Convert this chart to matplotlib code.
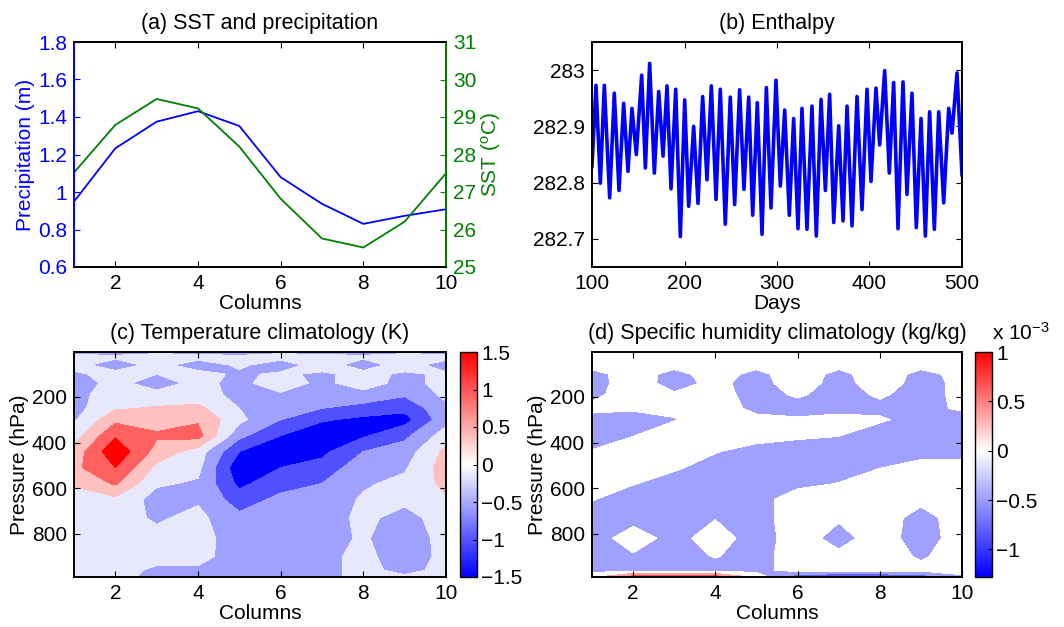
import numpy as np
import matplotlib
matplotlib.use('Agg')
import matplotlib.pyplot as plt
from matplotlib.colors import LinearSegmentedColormap, Normalize
from matplotlib.cm import ScalarMappable

# ---- (a) SST and precipitation ----
columns = [1, 2, 3, 4, 5, 6, 7, 8, 9, 10]
precip = [0.949, 1.233, 1.375, 1.431, 1.352, 1.079, 0.937, 0.830, 0.873, 0.908]
sst = [27.52, 28.79, 29.48, 29.23, 28.21, 26.82, 25.76, 25.52, 26.21, 27.50]

# ---- (b) Enthalpy (peaks / troughs) ----
days = [100.0, 104.3, 109.0, 113.3, 119.1, 124.1, 129.2, 134.2, 138.9, 143.2,
        147.9, 153.7, 157.7, 162.3, 167.4, 172.1, 176.8, 181.1, 185.4, 190.5,
        195.5, 200.2, 204.5, 209.9, 214.6, 219.6, 224.3, 229.0, 234.1, 238.7,
        244.1, 249.5, 254.2, 259.6, 264.3, 269.4, 273.7, 278.7, 283.8, 288.5,
        293.5, 298.9, 303.6, 308.3, 313.3, 318.0, 322.7, 327.0, 332.4, 337.8,
        342.5, 347.6, 352.3, 356.9, 361.3, 366.7, 371.4, 375.7, 381.1, 386.5,
        391.9, 397.3, 401.6, 407.0, 411.0, 416.4, 421.4, 426.1, 430.8, 436.2,
        440.5, 445.9, 450.6, 455.7, 460.4, 465.0, 470.1, 474.8, 480.2, 485.6,
        489.2, 494.6, 500.0]
enthalpy = [282.829, 282.973, 282.799, 282.973, 282.773, 282.959, 282.786, 282.941, 282.820, 282.932,
            282.850, 282.991, 282.826, 283.012, 282.817, 282.962, 282.847, 282.972, 282.789, 282.966,
            282.704, 282.947, 282.758, 282.900, 282.763, 282.953, 282.805, 282.972, 282.770, 282.966,
            282.726, 282.952, 282.761, 282.965, 282.788, 282.952, 282.742, 282.942, 282.708, 282.969,
            282.755, 282.982, 282.794, 282.929, 282.742, 282.914, 282.718, 282.932, 282.717, 282.936,
            282.705, 282.948, 282.786, 282.957, 282.729, 282.901, 282.732, 282.936, 282.723, 282.953,
            282.752, 282.966, 282.802, 282.968, 282.867, 282.999, 282.817, 282.978, 282.718, 282.979,
            282.779, 282.959, 282.720, 282.914, 282.705, 282.926, 282.717, 282.926, 282.764, 282.932,
            282.888, 282.995, 282.814]

# ---- (c), (d) climatologies on pressure levels ----
pressure = [3, 25, 60, 100, 140, 190, 250, 300, 370, 440, 510, 580, 650, 730, 820, 900, 960, 990]

temp_anom = [
    [-0.3, -0.3, -0.25, -0.3, -0.3, -0.25, -0.3, -0.3, -0.25, -0.3],
    [-0.1, -0.15, -0.1, -0.1, -0.15, -0.1, -0.1, -0.15, -0.1, -0.1],
    [-0.1, -0.35, -0.1, -0.35, -0.15, -0.35, -0.05, -0.35, -0.05, -0.35],
    [-0.25, -0.1, -0.2, -0.1, -0.25, -0.15, -0.25, -0.1, -0.25, -0.15],
    [-0.35, -0.1, -0.35, -0.1, -0.3, 0.0, -0.3, 0.0, -0.35, -0.05],
    [-0.3, -0.05, -0.1, -0.05, -0.3, -0.25, -0.4, -0.35, -0.55, -0.1],
    [-0.35, 0.15, 0.25, 0.3, -0.2, -0.45, -0.6, -0.75, -0.9, -0.3],
    [-0.25, 0.5, 0.45, 0.55, -0.1, -0.6, -0.95, -1.1, -1.15, -0.35],
    [0.0, 0.95, 0.65, 0.75, -0.5, -1.0, -1.3, -1.05, -0.7, 0.0],
    [0.35, 1.3, 0.45, 0.0, -1.0, -1.15, -1.1, -0.6, -0.4, 0.3],
    [0.5, 1.0, 0.1, -0.1, -1.3, -1.0, -0.85, -0.35, -0.25, 0.4],
    [0.25, 0.65, -0.15, -0.25, -1.1, -0.75, -0.6, -0.25, -0.1, 0.3],
    [0.0, 0.1, -0.35, -0.25, -0.8, -0.5, -0.45, -0.15, -0.1, 0.15],
    [-0.1, -0.05, -0.25, -0.1, -0.5, -0.4, -0.4, -0.1, -0.35, 0.0],
    [-0.1, -0.1, -0.1, -0.05, -0.4, -0.4, -0.35, -0.15, -0.45, -0.05],
    [-0.1, -0.1, -0.1, -0.1, -0.35, -0.35, -0.3, -0.1, -0.4, -0.1],
    [-0.1, -0.1, -0.25, -0.25, -0.3, -0.35, -0.3, -0.1, -0.3, -0.1],
    [-0.1, -0.1, -0.3, -0.3, -0.25, -0.3, -0.25, -0.15, -0.15, -0.1],
]

# specific humidity anomaly, units of 1e-3 kg/kg
q_anom = [
    [0, 0, 0, 0, 0, 0, 0, 0, 0, 0],
    [0, 0, 0, 0, 0, 0, 0, 0, 0, 0],
    [-0.1, -0.05, -0.1, -0.05, -0.1, 0.0, -0.1, -0.05, -0.1, -0.05],
    [-0.3, -0.05, -0.3, -0.05, -0.3, 0.0, -0.3, 0.0, -0.3, -0.1],
    [-0.35, 0.0, -0.35, -0.1, -0.35, 0.0, -0.35, 0.0, -0.35, -0.1],
    [-0.3, 0.0, -0.15, -0.05, -0.35, -0.15, -0.35, -0.15, -0.35, -0.1],
    [-0.1, -0.15, -0.12, 0.0, -0.3, -0.35, -0.3, -0.3, -0.3, -0.15],
    [-0.35, -0.35, -0.22, 0.0, -0.1, -0.15, -0.1, -0.15, -0.35, -0.35],
    [-0.35, -0.21, 0.0, 0.0, -0.05, -0.15, -0.19, -0.4, -0.4, -0.4],
    [-0.18, 0.0, 0.0, -0.18, -0.35, -0.35, -0.4, -0.35, -0.3, -0.3],
    [0.0, 0.0, -0.15, -0.35, -0.4, -0.4, -0.35, -0.21, -0.1, -0.1],
    [-0.1, -0.18, -0.35, -0.4, -0.4, -0.3, -0.19, 0.0, 0.0, 0.0],
    [-0.18, -0.4, -0.4, -0.35, -0.35, 0.0, -0.05, 0.0, -0.1, 0.0],
    [-0.4, -0.35, -0.4, -0.22, -0.35, 0.0, -0.15, 0.0, -0.35, 0.0],
    [-0.4, 0.0, -0.35, 0.0, -0.4, 0.0, -0.35, 0.0, -0.4, 0.0],
    [-0.4, -0.25, -0.35, -0.18, -0.35, 0.0, -0.1, 0.0, -0.25, 0.0],
    [-0.35, -0.35, -0.35, -0.35, -0.35, 0.0, 0.0, 0.0, -0.1, 0.0],
    [0.1, 0.8, 0.8, 0.8, 0.1, -1.0, -1.1, -1.1, -0.9, -0.3],
]

temp_levels = [-2, -1.0, -0.6, -0.2, 0.2, 0.6, 1.0, 2]
temp_colors = ['#0000ff', '#5050ff', '#a0a0ff', '#e8e8fc', '#ffc0c0', '#ff6060', '#ff0000']
q_levels = [-2, -1.0, -0.6, -0.2, 0.2, 0.6, 2]
q_colors = ['#2020ff', '#6060ff', '#a0a0ff', '#ffffff', '#ffa0a0', '#ff5050']

plt.rcParams['font.family'] = ['Liberation Sans', 'DejaVu Sans']
plt.rcParams['font.size'] = 15
plt.rcParams['axes.titlesize'] = 15.5
plt.rcParams['axes.labelsize'] = 15
plt.rcParams['axes.linewidth'] = 1.4
plt.rcParams['xtick.direction'] = 'in'
plt.rcParams['ytick.direction'] = 'in'
plt.rcParams['xtick.major.size'] = 4
plt.rcParams['ytick.major.size'] = 4
plt.rcParams['xtick.major.pad'] = 5
plt.rcParams['ytick.major.pad'] = 5

W, H = 1064, 627
fig = plt.figure(figsize=(W / 100, H / 100), dpi=100)


def box(l, t, r, b):
    return [l / W, 1 - b / H, (r - l) / W, (b - t) / H]


def fmt(v):
    return ('%g' % v).replace('-', '\u2212')


blue = '#0000ff'
green = '#008000'

# (a)
ax1 = fig.add_axes(box(74, 42, 446, 267))
ax1.plot(columns, precip, color=blue, lw=1.3)
ax1.set_xlim(1, 10)
ax1.set_ylim(0.6, 1.8)
ax1.set_xticks([2, 4, 6, 8, 10])
ax1.set_yticks(np.arange(0.6, 1.81, 0.2))
ax1.set_yticklabels([fmt(round(v, 1)) for v in np.arange(0.6, 1.81, 0.2)])
ax1.tick_params(axis='y', colors=blue)
ax1.tick_params(axis='x', top=True)
ax1.set_ylabel('Precipitation (m)', color=blue, labelpad=2)
ax1.set_xlabel('Columns', labelpad=1)
ax1.set_title('(a) SST and precipitation', pad=9)
ax1.spines['left'].set_color(blue)
ax2 = ax1.twinx()
ax2.plot(columns, sst, color=green, lw=1.3)
ax2.set_ylim(25, 31)
ax2.set_yticks(range(25, 32))
ax2.tick_params(axis='y', colors=green)
ax2.spines['right'].set_color(green)
ax2.spines['left'].set_color(blue)
ax2.set_ylabel(r'SST ($\mathregular{^o}$C)', color=green, labelpad=2)

# (b)
axb = fig.add_axes(box(592, 42, 962, 267))
axb.plot(days, enthalpy, color=blue, lw=2.6)
axb.set_xlim(100, 500)
axb.set_ylim(282.65, 283.05)
axb.set_xticks([100, 200, 300, 400, 500])
axb.set_yticks([282.7, 282.8, 282.9, 283.0])
axb.set_yticklabels(['282.7', '282.8', '282.9', '283'])
axb.tick_params(top=True, right=True)
axb.set_xlabel('Days', labelpad=1)
axb.set_title('(b) Enthalpy', pad=9)

# (c)
axc = fig.add_axes(box(74, 352, 446, 577))
axc.contourf(columns, pressure, temp_anom, levels=temp_levels, colors=temp_colors)
axc.set_ylim(990, 3)
axc.set_xlim(1, 10)
axc.set_xticks([2, 4, 6, 8, 10])
axc.set_yticks([200, 400, 600, 800])
axc.tick_params(top=True, right=True)
axc.set_xlabel('Columns', labelpad=1)
axc.set_ylabel('Pressure (hPa)', labelpad=2)
axc.set_title('(c) Temperature climatology (K)', pad=9)

cmap_c = LinearSegmentedColormap.from_list('bwr_c', [(0, '#0000ff'), (0.5, '#ffffff'), (1, '#ff0000')])
caxc = fig.add_axes(box(460, 352, 477, 577))
cbc = fig.colorbar(ScalarMappable(norm=Normalize(-1.5, 1.5), cmap=cmap_c), cax=caxc,
                   ticks=[-1.5, -1, -0.5, 0, 0.5, 1, 1.5])
cbc.ax.set_yticklabels([fmt(v) for v in [-1.5, -1, -0.5, 0, 0.5, 1, 1.5]])
cbc.ax.tick_params(direction='in', length=3, pad=3)
cbc.outline.set_linewidth(1.0)

# (d)
axd = fig.add_axes(box(592, 352, 962, 577))
axd.contourf(columns, pressure, q_anom, levels=q_levels, colors=q_colors)
axd.set_ylim(990, 3)
axd.set_xlim(1, 10)
axd.set_xticks([2, 4, 6, 8, 10])
axd.set_yticks([200, 400, 600, 800])
axd.tick_params(top=True, right=True)
axd.set_xlabel('Columns', labelpad=1)
axd.set_ylabel('Pressure (hPa)', labelpad=2)
axd.set_title('(d) Specific humidity climatology (kg/kg)', pad=9)

qmin, qmax = -1.28, 1.0
cmap_d = LinearSegmentedColormap.from_list(
    'bwr_d', [(0, '#0000ff'), (-qmin / (qmax - qmin), '#ffffff'), (1, '#ff0000')])
caxd = fig.add_axes(box(975, 352, 992, 577))
cbd = fig.colorbar(ScalarMappable(norm=Normalize(qmin, qmax), cmap=cmap_d), cax=caxd,
                   ticks=[-1, -0.5, 0, 0.5, 1])
cbd.ax.set_yticklabels([fmt(v) for v in [-1, -0.5, 0, 0.5, 1]])
cbd.ax.tick_params(direction='in', length=3, pad=3)
cbd.outline.set_linewidth(1.0)
fig.text(992 / W, 1 - 344 / H, r'x 10$\mathregular{^{-3}}$', ha='left', va='bottom')

fig.savefig('out.png', dpi=100)
